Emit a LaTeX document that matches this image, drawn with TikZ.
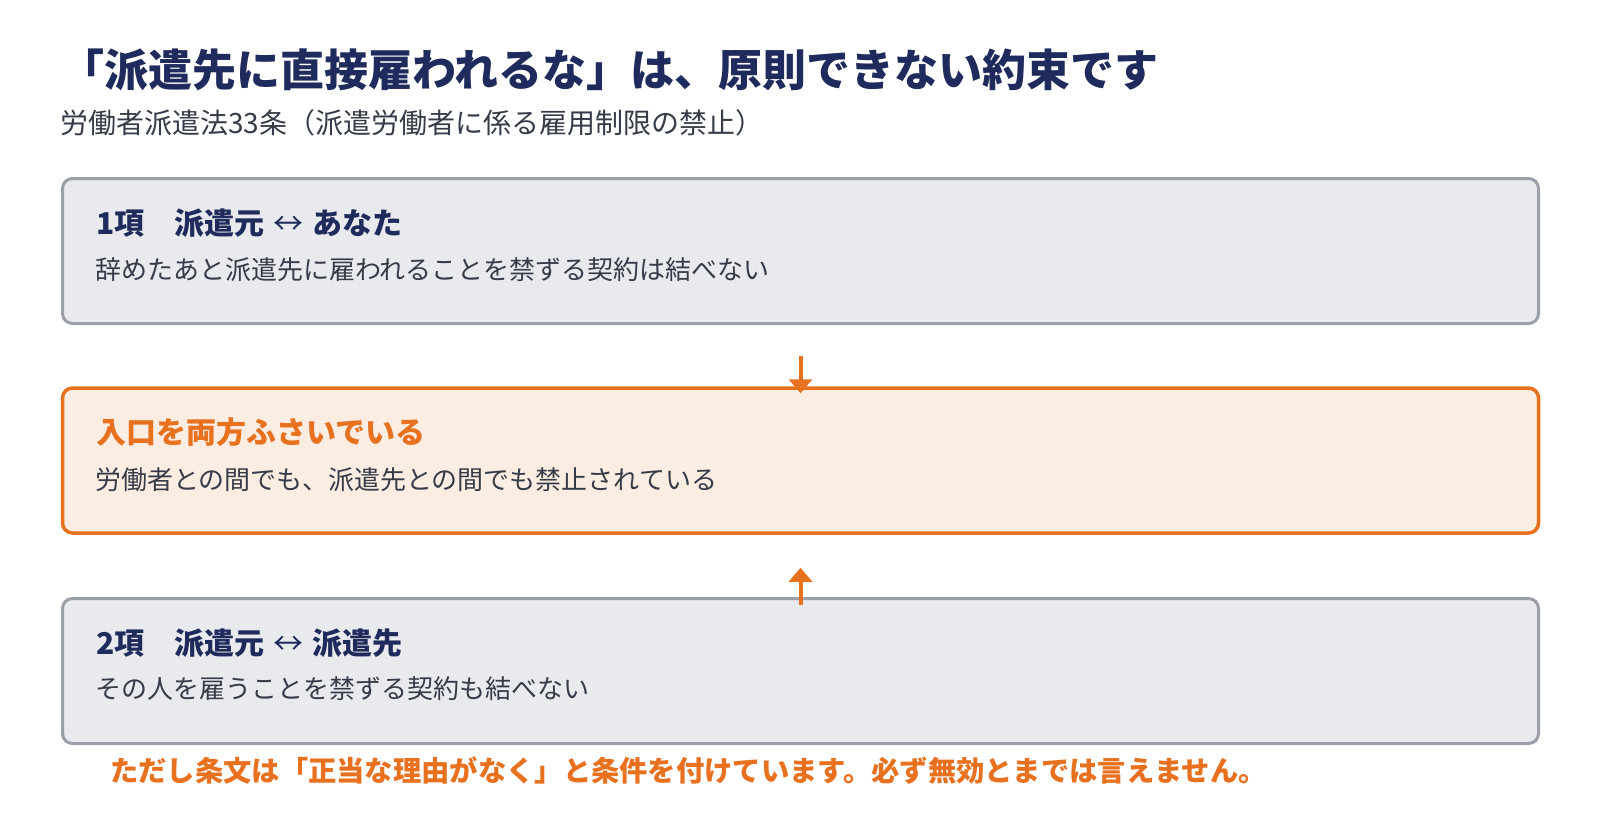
\documentclass[tikz,border=0pt]{standalone}
\usepackage{fontspec}
\setmainfont{Noto Sans CJK JP}
\usetikzlibrary{arrows.meta}
\definecolor{navy}{HTML}{1F2B5C}
\definecolor{ink}{HTML}{353B48}
\definecolor{orng}{HTML}{E8711F}
\definecolor{orngfill}{HTML}{FCEDE3}
\definecolor{grfill}{HTML}{E8EAEE}
\definecolor{grline}{HTML}{9A9FA9}
\newcommand{\lr}{\hspace{9pt}{\mdseries ↔}\hspace{9pt}}

\begin{document}
\begin{tikzpicture}[x=1pt, y=-1pt,
	card/.style={draw=grline, fill=grfill, line width=3pt, rounded corners=10pt, minimum width=1476pt, minimum height=145pt, inner sep=0pt},
	hot/.style={card, draw=orng, fill=orngfill, line width=3.5pt},
	head/.style={anchor=west, inner sep=0pt, font=\fontsize{30pt}{35pt}\selectfont\bfseries, text=navy},
	body/.style={anchor=west, inner sep=0pt, font=\fontsize{26pt}{31pt}\selectfont, text=ink},
	flow/.style={draw=orng, line width=4pt, -{Triangle[width=23pt,length=14pt]}}]
			\useasboundingbox (0,0) rectangle (1600,840);
			\node [anchor=west, inner sep=0pt, text=navy, font=\fontsize{44pt}{52pt}\selectfont\bfseries] (title) at (60,70) {「派遣先に直接雇われるな」は、原則できない約束です};
			\node [anchor=west, inner sep=0pt, text=ink, font=\fontsize{28pt}{33pt}\selectfont] (law) at (60,123) {労働者派遣法33条（派遣労働者に係る雇用制限の禁止）};
			\node [card] (box1) at (800.5,251) {};
			\node [hot] (box2) at (800.5,460.5) {};
			\node [card] (box3) at (800.5,671) {};
			\node [head] (h1) at (96,223) {1項　派遣元\lr あなた};
			\node [body] (t1) at (95,270) {辞めたあと派遣先に雇われることを禁ずる契約は結べない};
			\node [head, text=orng] (h2) at (96,432) {入口を両方ふさいでいる};
			\node [body] (t2) at (95,480) {労働者との間でも、派遣先との間でも禁止されている};
			\node [head] (h3) at (96,643) {2項　派遣元\lr 派遣先};
			\node [body] (t3) at (95,689) {その人を雇うことを禁ずる契約も結べない};
			\coordinate (in1) at (800.5,356);
			\coordinate (in2) at (800.5,605);
			\draw [flow] (in1) -- ([yshift=-7pt]box2.north);
			\draw [flow] (in2) -- ([yshift=-33pt]box2.south);
			\node [anchor=west, inner sep=0pt, text=orng, font=\fontsize{28.3pt}{33pt}\selectfont\bfseries] (note) at (110,771) {ただし条文は「正当な理由がなく」と条件を付けています。必ず無効とまでは言えません。};
\end{tikzpicture}
\end{document}
